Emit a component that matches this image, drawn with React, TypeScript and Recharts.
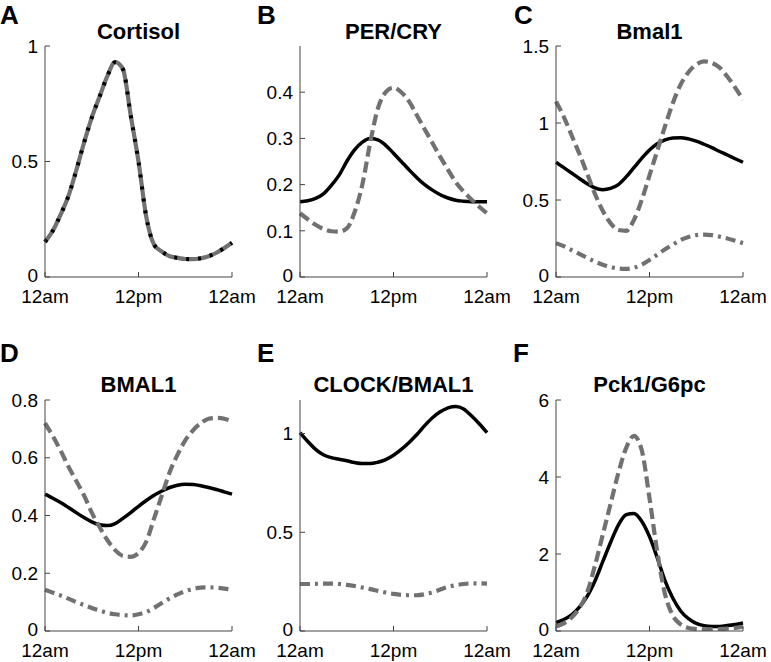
import React from 'react';
import { LineChart, Line, XAxis, YAxis } from 'recharts';

const hours = [0, 1, 2, 3, 4, 5, 6, 7, 8, 9, 10, 11, 12, 13, 14, 15, 16, 17, 18, 19, 20, 21, 22, 23, 24];
const timeTicks = [0, 12, 24];
const timeLabels: Record<number, string> = { 0: '12am', 12: '12pm', 24: '12am' };

// A - Cortisol
const cortisol = [0.152, 0.2, 0.27, 0.35, 0.46, 0.58, 0.69, 0.78, 0.87, 0.93, 0.9, 0.7, 0.5, 0.26, 0.14, 0.11, 0.09, 0.083, 0.078, 0.077, 0.081, 0.09, 0.105, 0.125, 0.148];
// B - PER/CRY
const perCrySolid = [0.163, 0.165, 0.17, 0.18, 0.198, 0.22, 0.25, 0.275, 0.292, 0.3, 0.297, 0.285, 0.268, 0.25, 0.232, 0.215, 0.2, 0.188, 0.178, 0.171, 0.166, 0.164, 0.163, 0.163, 0.163];
const perCryDashed = [0.138, 0.125, 0.113, 0.104, 0.099, 0.098, 0.105, 0.14, 0.2, 0.29, 0.365, 0.4, 0.41, 0.4, 0.38, 0.35, 0.32, 0.29, 0.26, 0.232, 0.205, 0.185, 0.168, 0.152, 0.138];
// C - Bmal1
const bmal1Solid = [0.745, 0.71, 0.675, 0.64, 0.605, 0.578, 0.567, 0.575, 0.6, 0.65, 0.71, 0.77, 0.825, 0.865, 0.89, 0.903, 0.905, 0.897, 0.882, 0.862, 0.84, 0.815, 0.792, 0.768, 0.745];
const bmal1Dashed = [1.14, 1.04, 0.92, 0.8, 0.67, 0.54, 0.43, 0.35, 0.305, 0.3, 0.37, 0.5, 0.66, 0.82, 0.98, 1.13, 1.25, 1.33, 1.38, 1.4, 1.39, 1.36, 1.3, 1.23, 1.15];
const bmal1DashDot = [0.22, 0.2, 0.175, 0.15, 0.125, 0.1, 0.08, 0.065, 0.055, 0.053, 0.06, 0.08, 0.11, 0.145, 0.18, 0.21, 0.24, 0.26, 0.272, 0.275, 0.272, 0.262, 0.25, 0.235, 0.22];
// D - BMAL1 protein
const bmalProtSolid = [0.474, 0.46, 0.445, 0.428, 0.41, 0.393, 0.378, 0.368, 0.365, 0.372, 0.39, 0.41, 0.432, 0.452, 0.47, 0.485, 0.497, 0.505, 0.508, 0.507, 0.503, 0.497, 0.49, 0.482, 0.474];
const bmalProtDashed = [0.72, 0.675, 0.625, 0.57, 0.52, 0.47, 0.41, 0.36, 0.315, 0.28, 0.26, 0.257, 0.27, 0.31, 0.39, 0.47, 0.55, 0.61, 0.66, 0.695, 0.72, 0.735, 0.738, 0.735, 0.725];
const bmalProtDashDot = [0.143, 0.133, 0.123, 0.112, 0.1, 0.09, 0.08, 0.071, 0.063, 0.058, 0.055, 0.054, 0.058, 0.066, 0.08, 0.097, 0.113, 0.127, 0.138, 0.146, 0.15, 0.151, 0.15, 0.147, 0.143];
// E - CLOCK/BMAL1
const clockSolid = [1.005, 0.96, 0.92, 0.893, 0.878, 0.87, 0.862, 0.853, 0.848, 0.848, 0.855, 0.868, 0.89, 0.92, 0.955, 0.995, 1.04, 1.08, 1.11, 1.13, 1.137, 1.125, 1.09, 1.05, 1.005];
const clockDashDot = [0.238, 0.238, 0.239, 0.24, 0.24, 0.238, 0.234, 0.228, 0.22, 0.212, 0.203, 0.195, 0.188, 0.183, 0.181, 0.181, 0.186, 0.196, 0.21, 0.223, 0.232, 0.238, 0.241, 0.241, 0.24];
// F - Pck1/G6pc
const pckSolid = [0.22, 0.3, 0.42, 0.62, 0.9, 1.3, 1.8, 2.3, 2.75, 3.02, 3.05, 2.85, 2.45, 1.9, 1.3, 0.85, 0.52, 0.32, 0.2, 0.14, 0.12, 0.12, 0.14, 0.17, 0.21];
const pckDashed = [0.12, 0.2, 0.35, 0.6, 1.0, 1.7, 2.5, 3.3, 4.1, 4.75, 5.07, 4.7, 3.45, 2.05, 0.95, 0.4, 0.17, 0.08, 0.05, 0.04, 0.04, 0.05, 0.06, 0.08, 0.11];

const BLACK = '#000000';
const GREY = '#717171';
const AXIS = '#444444';
const FONT = '"Liberation Sans", Arial, Helvetica, sans-serif';
const TICK_FONT = 19;

type Series = { values: number[]; color: string; width: number; dash?: string };

const solid = (values: number[]): Series => ({ values, color: BLACK, width: 3.5 });
const dashed = (values: number[]): Series => ({ values, color: GREY, width: 4.2, dash: '11 5' });
const dashDot = (values: number[]): Series => ({ values, color: GREY, width: 4.2, dash: '10 5 3 5' });

type PanelDef = {
  letter: string;
  title: string;
  left: number;
  top: number;
  yMax: number;
  yTicks: number[];
  series: Series[];
};

const panels: PanelDef[] = [
  {
    letter: 'A', title: 'Cortisol', left: 0, top: 0, yMax: 1, yTicks: [0, 0.5, 1],
    series: [{ values: cortisol, color: GREY, width: 4.2 }, { values: cortisol, color: BLACK, width: 4, dash: '3 9' }],
  },
  {
    letter: 'B', title: 'PER/CRY', left: 255, top: 0, yMax: 0.5, yTicks: [0, 0.1, 0.2, 0.3, 0.4],
    series: [solid(perCrySolid), dashed(perCryDashed)],
  },
  {
    letter: 'C', title: 'Bmal1', left: 511, top: 0, yMax: 1.5, yTicks: [0, 0.5, 1, 1.5],
    series: [solid(bmal1Solid), dashed(bmal1Dashed), dashDot(bmal1DashDot)],
  },
  {
    letter: 'D', title: 'BMAL1', left: 0, top: 354, yMax: 0.8, yTicks: [0, 0.2, 0.4, 0.6, 0.8],
    series: [solid(bmalProtSolid), dashed(bmalProtDashed), dashDot(bmalProtDashDot)],
  },
  {
    letter: 'E', title: 'CLOCK/BMAL1', left: 255, top: 354, yMax: 1.17, yTicks: [0, 0.5, 1],
    series: [solid(clockSolid), dashDot(clockDashDot)],
  },
  {
    letter: 'F', title: 'Pck1/G6pc', left: 511, top: 354, yMax: 6, yTicks: [0, 2, 4, 6],
    series: [solid(pckSolid), dashed(pckDashed)],
  },
];

const letterPos: Record<string, [number, number]> = {
  A: [0, 24], B: [257, 24], C: [514, 24], D: [0, 362], E: [257, 362], F: [513, 362],
};

const CHART_W = 257;
const CHART_H = 320;
const margin = { top: 46, right: 25, left: 5, bottom: 13 };

// y tick label; the zero label sits a little higher so it clears the time labels
const YTick = (props: any) => {
  const { x, y, payload } = props;
  const shift = payload.value === 0 ? -2 : 0;
  return (
    <text x={x} y={y + shift} dy="0.355em" textAnchor="end" fill="#000" fontSize={TICK_FONT} fontFamily={FONT}>
      {String(payload.value)}
    </text>
  );
};

const Panel: React.FC<{ p: PanelDef }> = ({ p }) => {
  const rows = hours.map((h, i) => {
    const r: Record<string, number> = { h };
    p.series.forEach((s, k) => { r['s' + k] = s.values[i]; });
    return r;
  });
  return (
    <div style={{ position: 'absolute', left: p.left, top: p.top }}>
      <LineChart width={CHART_W} height={CHART_H} data={rows} margin={margin}>
        <XAxis
          dataKey="h"
          type="number"
          domain={[0, 24]}
          ticks={timeTicks}
          interval={0}
          tickFormatter={(v: number) => timeLabels[v]}
          height={30}
          tickSize={-5}
          tickMargin={18}
          stroke={AXIS}
          tick={{ fill: '#000', fontSize: TICK_FONT, fontFamily: FONT }}
        />
        <YAxis
          type="number"
          domain={[0, p.yMax]}
          ticks={p.yTicks}
          interval={0}
          allowDataOverflow
          width={40}
          tickSize={-5}
          tickMargin={12}
          stroke={AXIS}
          tick={<YTick />}
        />
        {p.series.map((s, k) => (
          <Line
            key={k}
            type="monotone"
            dataKey={'s' + k}
            stroke={s.color}
            strokeWidth={s.width}
            strokeDasharray={s.dash}
            dot={false}
            activeDot={false}
            isAnimationActive={false}
          />
        ))}
      </LineChart>
    </div>
  );
};

export default function App() {
  return (
    <div style={{ position: 'absolute', left: 0, top: 0, width: 771, height: 662, background: '#fff', overflow: 'hidden' }}>
      {panels.map((p) => <Panel key={p.letter} p={p} />)}
      <svg width={771} height={662} style={{ position: 'absolute', left: 0, top: 0, pointerEvents: 'none' }}>
        {panels.map((p) => (
          <g key={p.letter}>
            <text x={letterPos[p.letter][0]} y={letterPos[p.letter][1]} fontFamily={FONT} fontWeight="bold" fontSize={26} fill="#000">
              {p.letter}
            </text>
            <text x={p.left + 45 + 93.5} y={p.top + (p.top === 0 ? 39 : 38)} textAnchor="middle" fontFamily={FONT} fontWeight="bold" fontSize={22} fill="#000">
              {p.title}
            </text>
          </g>
        ))}
      </svg>
    </div>
  );
}
